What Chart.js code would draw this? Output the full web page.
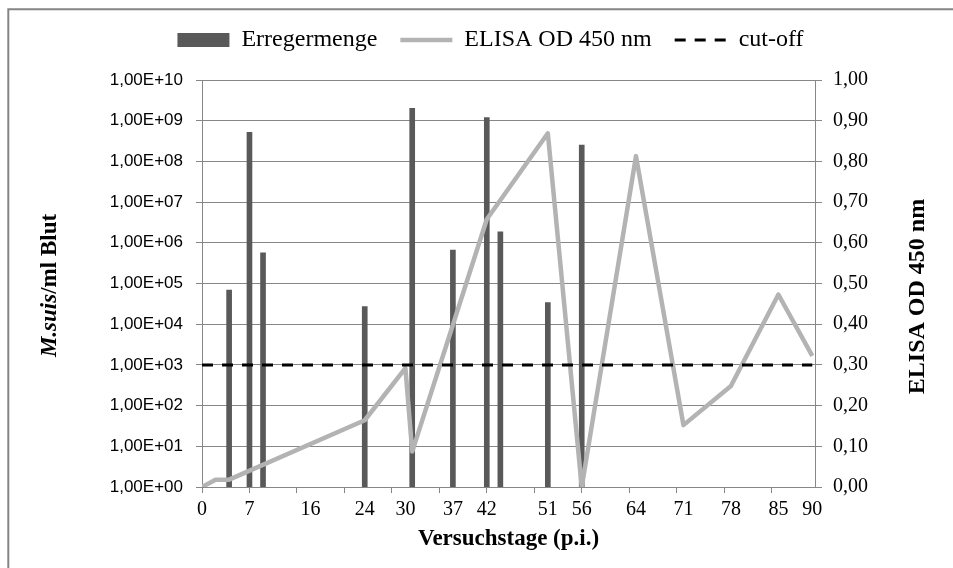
<!DOCTYPE html>
<html>
<head>
<meta charset="utf-8">
<script src="https://cdn.jsdelivr.net/npm/chart.js@4"></script>
<style>
  html, body { margin: 0; padding: 0; background: #fff; }
  canvas { display: block; }
</style>
</head>
<body>
<canvas id="chart" width="953" height="568"></canvas>
<script>
// --- Daten ---
const dayLabels = [0, 7, 16, 24, 30, 37, 42, 51, 56, 64, 71, 78, 85, 90];
const tickMarkDays = [0, 7, 14, 21, 28, 35, 42, 49, 56, 63, 70, 77, 84];

const barDays = [4, 7, 9, 24, 31, 37, 42, 44, 51, 56];
const barValues = [6.9e4, 5.2e8, 5.7e5, 2.7e4, 2.0e9, 6.6e5, 1.2e9, 1.85e6, 3.4e4, 2.5e8];

const elisaDays = [0, 2, 4, 24, 30, 31, 42, 51, 56, 64, 71, 78, 85, 90];
const elisaValues = [0.00, 0.018, 0.018, 0.164, 0.292, 0.087, 0.658, 0.869, 0.00, 0.813, 0.152, 0.248, 0.473, 0.322];

const cutoffDays = [0, 90];
const cutoffValue = 0.30;

const logTicks = [1, 1e1, 1e2, 1e3, 1e4, 1e5, 1e6, 1e7, 1e8, 1e9, 1e10];
const odTicks = [0, 0.1, 0.2, 0.3, 0.4, 0.5, 0.6, 0.7, 0.8, 0.9, 1.0];

const seriesNames = ['Erregermenge', 'ELISA OD 450 nm', 'cut-off'];
const leftTitle = ['M.suis', '/ml Blut'];
const rightTitle = 'ELISA OD 450 nm';
const xTitle = 'Versuchstage (p.i.)';

const GRID = '#878787';
const SERIF = '"Liberation Serif", "Times New Roman", serif';

function sci(v) {
    const e = Math.round(Math.log10(v));
    return '1,00E' + (e < 0 ? '-' : '+') + String(Math.abs(e)).padStart(2, '0');
}

// Rahmen + Achsentitel (links mit kursivem M.suis)
const frameAndTitles = {
    id: 'frameAndTitles',
    beforeDraw(chart) {
        const ctx = chart.ctx;
        ctx.save();
        ctx.fillStyle = '#fff';
        ctx.fillRect(0, 0, chart.width, chart.height);
        ctx.strokeStyle = '#858585';
        ctx.lineWidth = 2;
        ctx.beginPath();
        ctx.moveTo(8.3, chart.height + 2);
        ctx.lineTo(8.3, 9.3);
        ctx.lineTo(chart.width + 2, 9.3);
        ctx.stroke();
        ctx.restore();
    },
    afterDraw(chart) {
        const ctx = chart.ctx;
        const midY = (chart.chartArea.top + chart.chartArea.bottom) / 2;
        const italic = 'italic bold 23px ' + SERIF;
        const bold = 'bold 23px ' + SERIF;
        ctx.save();
        ctx.fillStyle = '#000';
        ctx.textBaseline = 'middle';
        ctx.textAlign = 'left';

        ctx.font = italic;
        const w1 = ctx.measureText(leftTitle[0]).width;
        ctx.font = bold;
        const w2 = ctx.measureText(leftTitle[1]).width;
        ctx.translate(50, midY + 2);
        ctx.rotate(-Math.PI / 2);
        ctx.font = italic;
        ctx.fillText(leftTitle[0], -(w1 + w2) / 2, 0);
        ctx.font = bold;
        ctx.fillText(leftTitle[1], -(w1 + w2) / 2 + w1, 0);
        ctx.restore();

        ctx.save();
        ctx.fillStyle = '#000';
        ctx.textBaseline = 'middle';
        ctx.textAlign = 'center';
        ctx.font = 'bold 24px ' + SERIF;
        ctx.translate(918, midY + 13);
        ctx.rotate(-Math.PI / 2);
        ctx.fillText(rightTitle, 0, 0);
        ctx.restore();
    }
};

const ctx = document.getElementById('chart').getContext('2d');

new Chart(ctx, {
    type: 'line',
    data: {
        datasets: [{
            type: 'bar',
            label: seriesNames[0],
            yAxisID: 'y',
            data: barDays.map((d, i) => ({ x: d, y: barValues[i] })),
            backgroundColor: '#595959',
            borderWidth: 0,
            barThickness: 5,
            order: 2
        }, {
            type: 'line',
            label: seriesNames[1],
            yAxisID: 'y1',
            data: elisaDays.map((d, i) => ({ x: d, y: elisaValues[i] })),
            borderColor: '#b3b3b3',
            borderWidth: 4.5,
            borderJoinStyle: 'round',
            pointRadius: 0,
            tension: 0,
            order: 1
        }, {
            type: 'line',
            label: seriesNames[2],
            yAxisID: 'y1',
            data: cutoffDays.map(d => ({ x: d, y: cutoffValue })),
            borderColor: '#000',
            borderWidth: 3,
            borderDash: [11, 9],
            pointRadius: 0,
            order: 0
        }]
    },
    options: {
        responsive: false,
        devicePixelRatio: 1,
        animation: false,
        layout: { padding: { top: 5, left: 28, right: 0, bottom: 0 } },
        plugins: {
            tooltip: { enabled: false },
            title: { display: true, text: '', weight: 500, padding: 0, font: { size: 18, lineHeight: 1 } },
            legend: {
                position: 'top',
                labels: {
                    usePointStyle: true,
                    pointStyleWidth: 52,
                    boxHeight: 14,
                    padding: 23,
                    color: '#000',
                    font: { family: SERIF, size: 24 },
                    generateLabels: chart => chart.data.datasets.map((ds, i) => ({
                        text: ds.label,
                        datasetIndex: i,
                        hidden: !chart.isDatasetVisible(i),
                        pointStyle: ds.type === 'bar' ? 'rect' : 'line',
                        fillStyle: ds.type === 'bar' ? ds.backgroundColor : 'rgba(0,0,0,0)',
                        strokeStyle: ds.type === 'bar' ? ds.backgroundColor : ds.borderColor,
                        lineWidth: ds.type === 'bar' ? 0 : (i === 1 ? 4.5 : 3),
                        lineDash: ds.borderDash || [],
                        fontColor: '#000'
                    }))
                }
            }
        },
        scales: {
            x: {
                type: 'linear',
                min: 0,
                max: 90.4,
                offset: false,
                afterBuildTicks: s => {
                    const all = Array.from(new Set([...dayLabels, ...tickMarkDays])).sort((a, b) => a - b);
                    s.ticks = all.map(v => ({ value: v }));
                },
                afterFit: s => { s.height = 81; },
                ticks: {
                    autoSkip: false,
                    maxRotation: 0,
                    padding: 5,
                    color: '#000',
                    font: { family: SERIF, size: 20 },
                    callback: v => dayLabels.includes(v) ? String(v) : ''
                },
                grid: {
                    offset: false,
                    drawOnChartArea: false,
                    tickLength: 6,
                    color: c => (c.tick && tickMarkDays.includes(c.tick.value)) ? GRID : 'rgba(0,0,0,0)'
                },
                border: { color: GRID },
                title: {
                    display: true,
                    text: xTitle,
                    color: '#000',
                    font: { family: SERIF, size: 23, weight: 'bold' },
                    padding: { top: 0, bottom: 15 }
                }
            },
            y: {
                type: 'logarithmic',
                position: 'left',
                min: 1,
                max: 1e10,
                afterBuildTicks: s => { s.ticks = logTicks.map(v => ({ value: v })); },
                afterFit: s => { s.width = 174; },
                ticks: {
                    autoSkip: false,
                    padding: 13,
                    color: '#000',
                    font: { family: '"Liberation Sans", Arial, sans-serif', size: 17 },
                    callback: v => sci(v)
                },
                grid: { color: GRID, tickLength: 6 },
                border: { color: GRID }
            },
            y1: {
                type: 'linear',
                position: 'right',
                min: 0,
                max: 1,
                afterBuildTicks: s => { s.ticks = odTicks.map(v => ({ value: v })); },
                afterFit: s => { s.width = 138; },
                ticks: {
                    autoSkip: false,
                    padding: 11,
                    color: '#000',
                    font: { family: SERIF, size: 20 },
                    callback: v => v.toFixed(2).replace('.', ',')
                },
                grid: { drawOnChartArea: false, color: GRID, tickLength: 7 },
                border: { color: GRID }
            }
        }
    },
    plugins: [frameAndTitles]
});
</script>
</body>
</html>
